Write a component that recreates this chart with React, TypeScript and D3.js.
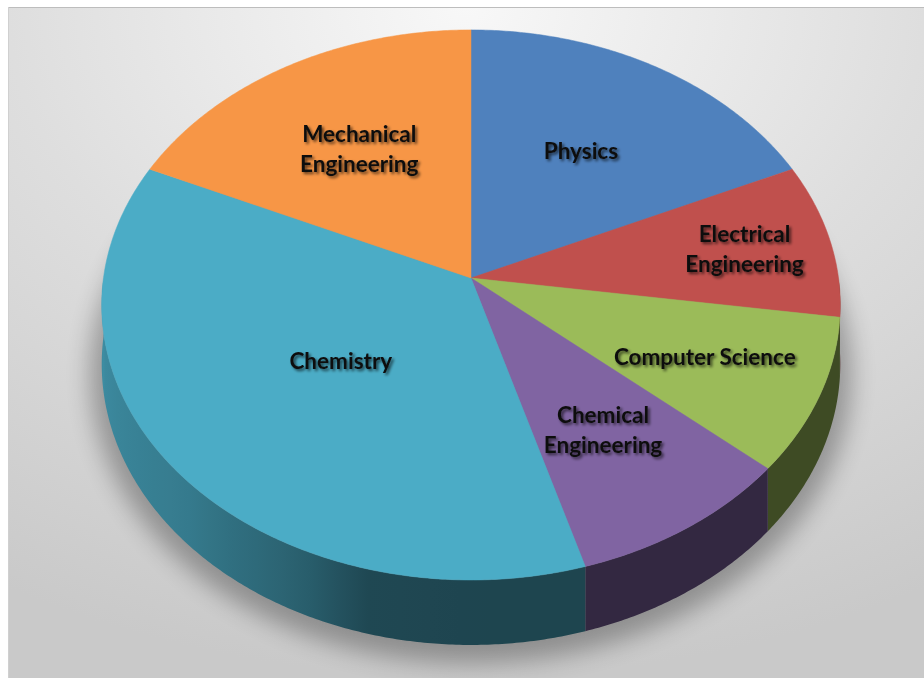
import React, { useMemo } from "react";
import * as d3 from "d3";

const categories = [
  "Physics",
  "Electrical Engineering",
  "Computer Science",
  "Chemical Engineering",
  "Chemistry",
  "Mechanical Engineering",
];
const values = [2, 1, 1, 1, 4, 2];
const colors = ["#4f81bd", "#c0504d", "#9bbb59", "#8064a2", "#4bacc6", "#f79646"];
const labelLines = [
  ["Physics"],
  ["Electrical", "Engineering"],
  ["Computer Science"],
  ["Chemical", "Engineering"],
  ["Chemistry"],
  ["Mechanical", "Engineering"],
];
const labelRadius = [0.58, 0.76, 0.68, 0.63, 0.455, 0.59];

const W = 924;
const H = 678;
const CX = 471;
const CY = 278;
const AX = 367.5;
const AY = 272.4;
const P = 0.098;
const DEPTH = 58.6;

function proj(theta: number, r: number, h: number): [number, number] {
  const x = r * Math.sin(theta);
  const z = r * Math.cos(theta);
  const s = 1 / (1 + P * z);
  return [CX + AX * x * s, CY - AY * z * s + DEPTH * h * s];
}

const shadeScale = d3
  .scaleLinear<number>()
  .domain([0, 90, 180, 195, 205, 227, 265, 360])
  .range([0.4, 0.4, 0.4, 0.42, 0.56, 0.72, 0.82, 0.82])
  .clamp(true);

function darken(color: string, f: number): string {
  const c = d3.rgb(color);
  return d3.rgb(c.r * f, c.g * f, c.b * f).formatHex();
}

export default function App() {
  const pie = useMemo(
    () =>
      d3
        .pie<number>()
        .sort(null)
        .startAngle(0)
        .endAngle(2 * Math.PI)(values),
    []
  );

  const line = d3.line();
  const step = Math.PI / 360;

  const tops = pie.map((a, i) => {
    const pts: [number, number][] = [proj(0, 0, 0)];
    const n = Math.max(2, Math.ceil((a.endAngle - a.startAngle) / step));
    for (let k = 0; k <= n; k++) {
      const t = a.startAngle + ((a.endAngle - a.startAngle) * k) / n;
      pts.push(proj(t, 1, 0));
    }
    return { d: line(pts) + "Z", color: colors[i] };
  });

  // outer walls: only the front-facing part (theta in [90deg, 270deg])
  const lo = Math.PI / 2;
  const hi = (3 * Math.PI) / 2;
  const walls: { d: string; id: string; x1: number; x2: number; stops: { o: number; c: string }[] }[] = [];
  pie.forEach((a, i) => {
    const s0 = Math.max(a.startAngle, lo);
    const s1 = Math.min(a.endAngle, hi);
    if (s1 <= s0) return;
    const n = Math.max(4, Math.ceil((s1 - s0) / step));
    const top: [number, number][] = [];
    const bot: [number, number][] = [];
    for (let k = 0; k <= n; k++) {
      const t = s0 + ((s1 - s0) * k) / n;
      top.push(proj(t, 1, 0));
      bot.push(proj(t, 1, 1));
    }
    const pts = top.concat(bot.reverse());
    const xs = top.map((p) => p[0]);
    const x1 = Math.min(...xs);
    const x2 = Math.max(...xs);
    const stops: { o: number; c: string }[] = [];
    const m = 24;
    for (let k = 0; k <= m; k++) {
      const t = s0 + ((s1 - s0) * k) / m;
      const x = proj(t, 1, 0)[0];
      stops.push({
        o: x2 > x1 ? (x - x1) / (x2 - x1) : 0,
        c: darken(colors[i], shadeScale((t * 180) / Math.PI)),
      });
    }
    stops.sort((p, q) => p.o - q.o);
    walls.push({ d: line(pts) + "Z", id: "wall" + i, x1, x2, stops });
  });

  const shadowPts: [number, number][] = [];
  for (let k = 0; k <= 360; k++) {
    const t = (k * Math.PI) / 180;
    const [x, y] = proj(t, 1.03, 1);
    shadowPts.push([x, y + 8]);
  }
  const shadowD = line(shadowPts) + "Z";

  const labels = pie.map((a, i) => {
    const mid = (a.startAngle + a.endAngle) / 2;
    const [x, y] = proj(mid, labelRadius[i], 0);
    return { x, y, lines: labelLines[i], key: categories[i] };
  });

  const lh = 30;

  return (
    <div style={{ position: "fixed", left: 0, top: 0, width: W, height: H, background: "#fff" }}>
      <svg width={W} height={H} style={{ display: "block" }}>
        <defs>
          <radialGradient id="bg" cx="50%" cy="0%" r="100%" fx="50%" fy="0%">
            <stop offset="0" stopColor="#f8f8f8" />
            <stop offset="0.5" stopColor="#dedede" />
            <stop offset="1" stopColor="#c9c9c9" />
          </radialGradient>
          {walls.map((w) => (
            <linearGradient key={w.id} id={w.id} gradientUnits="userSpaceOnUse" x1={w.x1} y1={0} x2={w.x2} y2={0}>
              {w.stops.map((s, j) => (
                <stop key={j} offset={s.o} stopColor={s.c} />
              ))}
            </linearGradient>
          ))}
          <filter id="blur" x="-20%" y="-20%" width="140%" height="140%">
            <feGaussianBlur stdDeviation="12" />
          </filter>
          <filter id="ts" x="-10%" y="-30%" width="120%" height="160%">
            <feGaussianBlur in="SourceAlpha" stdDeviation="1.6" />
            <feOffset dx="2" dy="2" result="b" />
            <feComponentTransfer>
              <feFuncA type="linear" slope="0.65" />
            </feComponentTransfer>
            <feMerge>
              <feMergeNode />
              <feMergeNode in="SourceGraphic" />
            </feMerge>
          </filter>
        </defs>
        <rect x={8} y={7} width={W - 8} height={H - 7} fill="url(#bg)" />
        <line x1={8} y1={7.5} x2={W} y2={7.5} stroke="#bdbdbd" strokeWidth={1} />
        <line x1={8.5} y1={7} x2={8.5} y2={H} stroke="#d0d0d0" strokeWidth={1} />
        <path d={shadowD} fill="#000" opacity={0.3} filter="url(#blur)" />
        <g>
          {walls.map((w) => (
            <path key={w.id} d={w.d} fill={`url(#${w.id})`} />
          ))}
        </g>
        <g>
          {tops.map((t, i) => (
            <path key={i} d={t.d} fill={t.color} stroke={t.color} strokeWidth={0.5} />
          ))}
        </g>
        <g
          fontFamily="Lato, 'Open Sans', sans-serif"
          fontWeight={700}
          fontSize={22.5}
          fill="#111"
          textAnchor="middle"
          filter="url(#ts)"
        >
          {labels.map((l) => (
            <text key={l.key} x={l.x} y={l.y - ((l.lines.length - 1) * lh) / 2}>
              {l.lines.map((s, j) => (
                <tspan key={j} x={l.x} dy={j === 0 ? "0.35em" : lh}>
                  {s}
                </tspan>
              ))}
            </text>
          ))}
        </g>
      </svg>
    </div>
  );
}
